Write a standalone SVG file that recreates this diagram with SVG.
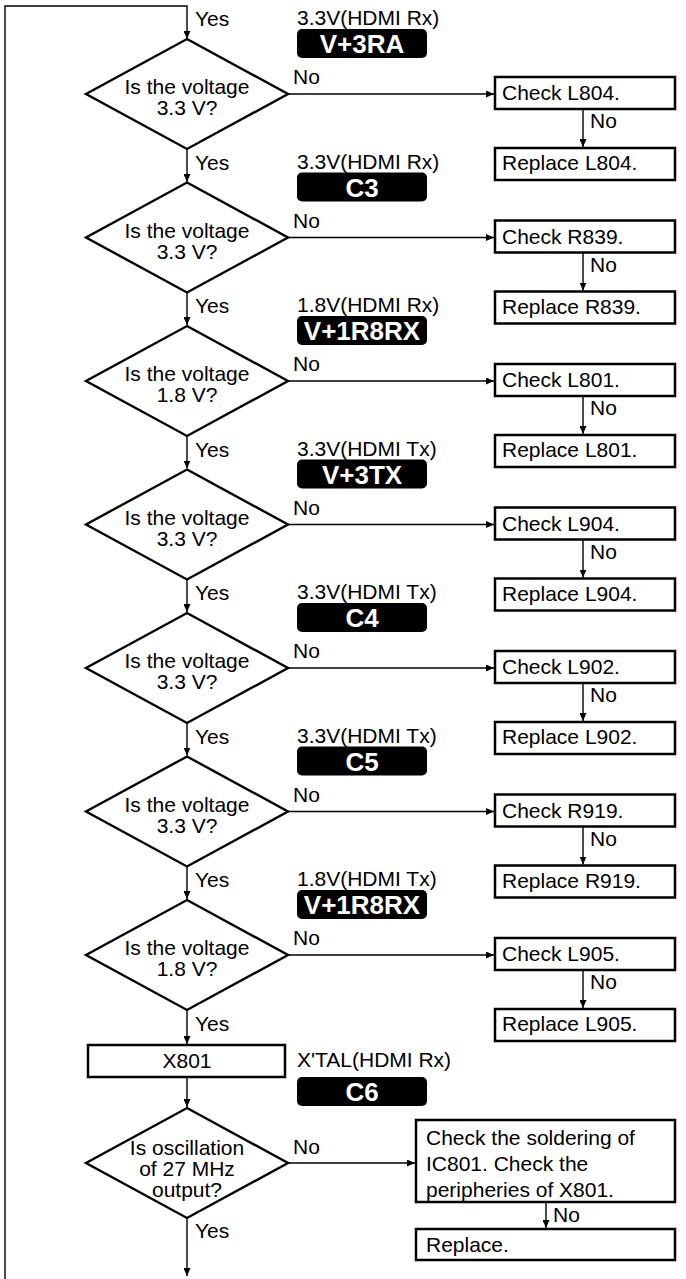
<svg xmlns="http://www.w3.org/2000/svg" width="686" height="1279" viewBox="0 0 686 1279">
<style>
text{font-family:"Liberation Sans",Arial,Helvetica,sans-serif;font-size:21px;fill:#000}
.c{text-anchor:middle}
.b{font-weight:bold;font-size:26px;fill:#fff;text-anchor:middle}
.dia{fill:#fff;stroke:#000;stroke-width:2.4;stroke-linejoin:miter}
.box{fill:#fff;stroke:#000;stroke-width:2.5}
.badge{fill:#000}
.ln{fill:none;stroke:#000;stroke-width:1.4}
</style>
<defs>
<marker id="ah" markerUnits="userSpaceOnUse" markerWidth="9" markerHeight="7" refX="8" refY="3.5" orient="auto">
<path d="M0,0 L8,3.5 L0,7 z" fill="#000"/>
</marker>
</defs>
<rect width="686" height="1279" fill="#fff"/>
<g id="connectors">
<path class="ln" d="M5,1279 V6 H187 V39" marker-end="url(#ah)"/>
<path class="ln" d="M187,149 V182" marker-end="url(#ah)"/>
<path class="ln" d="M187,292.5 V325" marker-end="url(#ah)"/>
<path class="ln" d="M187,436 V468.5" marker-end="url(#ah)"/>
<path class="ln" d="M187,579.5 V612" marker-end="url(#ah)"/>
<path class="ln" d="M187,723 V755.5" marker-end="url(#ah)"/>
<path class="ln" d="M187,866.5 V899" marker-end="url(#ah)"/>
<path class="ln" d="M187,1010 V1044" marker-end="url(#ah)"/>
<path class="ln" d="M187,1077 V1107" marker-end="url(#ah)"/>
<path class="ln" d="M187,1218 V1276" marker-end="url(#ah)"/>
<path class="ln" d="M288,94 H494" marker-end="url(#ah)"/>
<path class="ln" d="M288,237.5 H494" marker-end="url(#ah)"/>
<path class="ln" d="M288,381 H494" marker-end="url(#ah)"/>
<path class="ln" d="M288,524.5 H494" marker-end="url(#ah)"/>
<path class="ln" d="M288,668 H494" marker-end="url(#ah)"/>
<path class="ln" d="M288,811.5 H494" marker-end="url(#ah)"/>
<path class="ln" d="M288,955 H494" marker-end="url(#ah)"/>
<path class="ln" d="M288,1163 H415" marker-end="url(#ah)"/>
<path class="ln" d="M583,109 V147" marker-end="url(#ah)"/>
<path class="ln" d="M583,252.5 V290.5" marker-end="url(#ah)"/>
<path class="ln" d="M583,396 V434" marker-end="url(#ah)"/>
<path class="ln" d="M583,539.5 V577.5" marker-end="url(#ah)"/>
<path class="ln" d="M583,683 V721" marker-end="url(#ah)"/>
<path class="ln" d="M583,826.5 V864.5" marker-end="url(#ah)"/>
<path class="ln" d="M583,970 V1008" marker-end="url(#ah)"/>
<path class="ln" d="M546,1202 V1228" marker-end="url(#ah)"/>
<text x="195" y="26">Yes</text>
<text x="195" y="169.5">Yes</text>
<text x="195" y="313">Yes</text>
<text x="195" y="456.5">Yes</text>
<text x="195" y="600">Yes</text>
<text x="195" y="743.5">Yes</text>
<text x="195" y="887">Yes</text>
<text x="195" y="1031">Yes</text>
<text x="195" y="1238">Yes</text>
<text x="293" y="84">No</text>
<text x="293" y="227.5">No</text>
<text x="293" y="371">No</text>
<text x="293" y="514.5">No</text>
<text x="293" y="658">No</text>
<text x="293" y="801.5">No</text>
<text x="293" y="945">No</text>
<text x="293" y="1154">No</text>
<text x="590" y="128">No</text>
<text x="590" y="271.5">No</text>
<text x="590" y="415">No</text>
<text x="590" y="558.5">No</text>
<text x="590" y="702">No</text>
<text x="590" y="845.5">No</text>
<text x="590" y="989">No</text>
<text x="553" y="1222">No</text>
</g>
<g id="badge1"><text x="297" y="25">3.3V(HDMI Rx)</text><rect class="badge" x="297" y="29" width="130" height="29" rx="5"/><text class="b" x="362" y="53">V+3RA</text></g>
<g id="badge2"><text x="297" y="168.5">3.3V(HDMI Rx)</text><rect class="badge" x="297" y="172.5" width="130" height="29" rx="5"/><text class="b" x="362" y="196.5">C3</text></g>
<g id="badge3"><text x="297" y="312">1.8V(HDMI Rx)</text><rect class="badge" x="297" y="316" width="130" height="29" rx="5"/><text class="b" x="362" y="340">V+1R8RX</text></g>
<g id="badge4"><text x="297" y="455.5">3.3V(HDMI Tx)</text><rect class="badge" x="297" y="459.5" width="130" height="29" rx="5"/><text class="b" x="362" y="483.5">V+3TX</text></g>
<g id="badge5"><text x="297" y="599">3.3V(HDMI Tx)</text><rect class="badge" x="297" y="603" width="130" height="29" rx="5"/><text class="b" x="362" y="627">C4</text></g>
<g id="badge6"><text x="297" y="742.5">3.3V(HDMI Tx)</text><rect class="badge" x="297" y="746.5" width="130" height="29" rx="5"/><text class="b" x="362" y="770.5">C5</text></g>
<g id="badge7"><text x="297" y="886">1.8V(HDMI Tx)</text><rect class="badge" x="297" y="890" width="130" height="29" rx="5"/><text class="b" x="362" y="914">V+1R8RX</text></g>
<g id="badge8"><text x="297" y="1067">X'TAL(HDMI Rx)</text><rect class="badge" x="297" y="1077" width="130" height="29" rx="5"/><text class="b" x="362" y="1101">C6</text></g>
<g id="d1"><polygon class="dia" points="187,39 288,94 187,149 86,94"/><text class="c" x="187" y="94">Is the voltage</text><text class="c" x="187" y="115">3.3 V?</text></g>
<g id="d2"><polygon class="dia" points="187,182.5 288,237.5 187,292.5 86,237.5"/><text class="c" x="187" y="237.5">Is the voltage</text><text class="c" x="187" y="258.5">3.3 V?</text></g>
<g id="d3"><polygon class="dia" points="187,326 288,381 187,436 86,381"/><text class="c" x="187" y="381">Is the voltage</text><text class="c" x="187" y="402">1.8 V?</text></g>
<g id="d4"><polygon class="dia" points="187,469.5 288,524.5 187,579.5 86,524.5"/><text class="c" x="187" y="524.5">Is the voltage</text><text class="c" x="187" y="545.5">3.3 V?</text></g>
<g id="d5"><polygon class="dia" points="187,613 288,668 187,723 86,668"/><text class="c" x="187" y="668">Is the voltage</text><text class="c" x="187" y="689">3.3 V?</text></g>
<g id="d6"><polygon class="dia" points="187,756.5 288,811.5 187,866.5 86,811.5"/><text class="c" x="187" y="811.5">Is the voltage</text><text class="c" x="187" y="832.5">3.3 V?</text></g>
<g id="d7"><polygon class="dia" points="187,900 288,955 187,1010 86,955"/><text class="c" x="187" y="955">Is the voltage</text><text class="c" x="187" y="976">1.8 V?</text></g>
<g id="x801"><rect class="box" x="88" y="1045" width="197" height="32"/><text class="c" x="187" y="1068">X801</text></g>
<g id="d8"><polygon class="dia" points="187,1108 288,1163 187,1218 86,1163"/><text class="c" x="187" y="1155">Is oscillation</text><text class="c" x="187" y="1176">of 27 MHz</text><text class="c" x="187" y="1197">output?</text></g>
<g id="chk1"><rect class="box" x="495" y="77" width="180" height="32"/><text x="502" y="100">Check L804.</text></g>
<g id="rep1"><rect class="box" x="495" y="148" width="180" height="32"/><text x="502" y="170">Replace L804.</text></g>
<g id="chk2"><rect class="box" x="495" y="220.5" width="180" height="32"/><text x="502" y="243.5">Check R839.</text></g>
<g id="rep2"><rect class="box" x="495" y="291.5" width="180" height="32"/><text x="502" y="313.5">Replace R839.</text></g>
<g id="chk3"><rect class="box" x="495" y="364" width="180" height="32"/><text x="502" y="387">Check L801.</text></g>
<g id="rep3"><rect class="box" x="495" y="435" width="180" height="32"/><text x="502" y="457">Replace L801.</text></g>
<g id="chk4"><rect class="box" x="495" y="507.5" width="180" height="32"/><text x="502" y="530.5">Check L904.</text></g>
<g id="rep4"><rect class="box" x="495" y="578.5" width="180" height="32"/><text x="502" y="600.5">Replace L904.</text></g>
<g id="chk5"><rect class="box" x="495" y="651" width="180" height="32"/><text x="502" y="674">Check L902.</text></g>
<g id="rep5"><rect class="box" x="495" y="722" width="180" height="32"/><text x="502" y="744">Replace L902.</text></g>
<g id="chk6"><rect class="box" x="495" y="794.5" width="180" height="32"/><text x="502" y="817.5">Check R919.</text></g>
<g id="rep6"><rect class="box" x="495" y="865.5" width="180" height="32"/><text x="502" y="887.5">Replace R919.</text></g>
<g id="chk7"><rect class="box" x="495" y="938" width="180" height="32"/><text x="502" y="961">Check L905.</text></g>
<g id="rep7"><rect class="box" x="495" y="1009" width="180" height="32"/><text x="502" y="1031">Replace L905.</text></g>
<g id="chk8"><rect class="box" x="416" y="1120" width="259" height="82"/><text x="426" y="1145">Check the soldering of</text><text x="426" y="1171">IC801. Check the</text><text x="426" y="1197">peripheries of X801.</text></g>
<g id="rep8"><rect class="box" x="416" y="1229" width="259" height="31"/><text x="426" y="1252">Replace.</text></g>
</svg>
